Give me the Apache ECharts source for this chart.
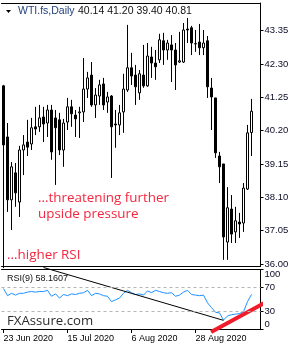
<!DOCTYPE html>
<html>
<head>
<meta charset="utf-8">
<script src="https://cdn.jsdelivr.net/npm/echarts@6/dist/echarts.min.js"></script>
<style>
  html, body { margin: 0; padding: 0; background: #fff; }
  #c { width: 300px; height: 350px; }
</style>
</head>
<body>
<div id="c"></div>
<script>
// ---- data ----
const dates = ['23 Jun 2020','24 Jun 2020','25 Jun 2020','26 Jun 2020','29 Jun 2020','30 Jun 2020','1 Jul 2020','2 Jul 2020','3 Jul 2020','6 Jul 2020',
  '7 Jul 2020','8 Jul 2020','9 Jul 2020','10 Jul 2020','13 Jul 2020','14 Jul 2020','15 Jul 2020','16 Jul 2020','17 Jul 2020','20 Jul 2020',
  '21 Jul 2020','22 Jul 2020','23 Jul 2020','24 Jul 2020','27 Jul 2020','28 Jul 2020','29 Jul 2020','30 Jul 2020','31 Jul 2020','3 Aug 2020',
  '4 Aug 2020','5 Aug 2020','6 Aug 2020','7 Aug 2020','10 Aug 2020','11 Aug 2020','12 Aug 2020','13 Aug 2020','14 Aug 2020','17 Aug 2020',
  '18 Aug 2020','19 Aug 2020','20 Aug 2020','21 Aug 2020','24 Aug 2020','25 Aug 2020','26 Aug 2020','27 Aug 2020','28 Aug 2020','31 Aug 2020',
  '1 Sep 2020','2 Sep 2020','3 Sep 2020','4 Sep 2020','7 Sep 2020','8 Sep 2020','9 Sep 2020','10 Sep 2020','11 Sep 2020','14 Sep 2020',
  '15 Sep 2020','16 Sep 2020','17 Sep 2020'];

const opens = [41.61, 40.00, 38.02, 38.87, 37.95, 39.59, 39.84, 39.78, 40.32, 40.32,
  40.63, 40.44, 40.85, 40.60, 40.54, 39.59, 40.47, 40.95, 40.69, 40.76,
  40.79, 41.51, 41.95, 41.01, 41.29, 41.67, 41.10, 41.29, 40.41, 40.38,
  40.79, 41.48, 42.18, 41.95, 41.39, 41.95, 41.61, 42.52, 42.33, 42.43,
  43.03, 42.74, 42.90, 42.74, 42.36, 42.36, 43.40, 43.44, 42.93, 42.99,
  42.81, 43.03, 41.54, 41.23, 39.40, 39.15, 36.69, 37.73, 37.01, 37.32,
  37.29, 38.36, 40.14];
const closes = [39.75, 38.02, 39.06, 38.24, 39.59, 39.75, 39.68, 40.29, 40.25, 40.60,
  40.41, 40.85, 39.53, 40.29, 39.59, 40.44, 40.95, 40.73, 40.57, 40.79,
  41.51, 41.86, 41.01, 41.32, 41.64, 41.01, 41.26, 40.32, 40.38, 40.76,
  41.51, 42.18, 41.92, 41.58, 41.99, 41.61, 42.55, 42.33, 42.21, 43.06,
  42.74, 42.96, 42.74, 42.27, 42.40, 43.37, 43.37, 42.96, 42.94, 42.81,
  42.96, 41.58, 41.26, 39.50, 39.06, 36.85, 37.77, 36.94, 37.36, 37.26,
  38.39, 40.13, 40.81];
const highs = [41.64, 40.44, 39.21, 39.18, 39.72, 40.06, 40.54, 40.60, 40.95, 41.01,
  40.95, 41.01, 41.01, 40.85, 40.76, 40.57, 41.23, 41.17, 40.85, 40.95,
  42.49, 42.05, 42.36, 41.54, 41.80, 41.86, 41.42, 41.32, 40.85, 41.01,
  41.99, 43.53, 42.65, 42.27, 42.11, 42.90, 42.96, 42.84, 42.74, 43.25,
  43.28, 43.06, 43.21, 42.96, 43.31, 43.59, 43.75, 43.50, 43.37, 43.56,
  43.37, 43.18, 41.86, 41.23, 39.53, 39.15, 38.42, 38.17, 37.80, 37.61,
  38.55, 40.38, 41.20];
const lows = [35.87, 37.64, 37.07, 37.80, 37.48, 38.80, 39.40, 39.59, 40.06, 40.16,
  39.84, 40.00, 39.28, 38.49, 39.43, 39.06, 40.22, 40.32, 40.00, 39.97,
  40.47, 41.23, 40.95, 40.60, 41.01, 40.85, 40.76, 38.71, 39.66, 40.06,
  40.13, 41.42, 41.64, 41.01, 41.17, 41.55, 41.58, 41.86, 41.80, 42.33,
  42.27, 42.43, 41.73, 41.48, 42.33, 42.33, 42.96, 42.58, 42.68, 42.58,
  42.58, 41.23, 40.22, 39.34, 38.55, 36.13, 36.13, 36.66, 36.66, 36.82,
  37.01, 38.33, 39.40];

const rsi = [68, 56, 60, 57, 60, 60, 62, 63, 62, 63,
  63, 65, 55, 59, 52, 58, 56, 59, 58, 60,
  61, 65, 56, 60, 59, 56, 55, 46, 49, 52,
  60, 65, 61, 58, 59, 57, 64, 61, 65, 63,
  61, 60, 61, 55, 57, 62, 65, 58, 57, 56,
  57, 44, 36, 28, 27, 15, 22, 24, 25, 26,
  29, 46, 58.1607];

const priceTicks = [36.00, 37.05, 38.10, 39.15, 40.20, 41.25, 42.30, 43.35];
const rsiTicks = [0, 30, 70, 100];
const rsiLevels = [30, 70];
const dateTickIdx = [0, 16, 32, 48];

// drawn annotation lines (bar index, RSI value)
const trendX = [10, 55];
const trendY = [103.4, 14.5];
const arrowX = [51.9, 66.2];
const arrowY = [-5.0, 47.1];

const annText1 = '...threatening further';
const annText2 = 'upside pressure';
const annText3 = '...higher RSI';
const brand = 'FXAssure.com';
const symbolTitle = 'WTI.fs,Daily';

// ---- chart ----
const last = closes.length - 1;
const candleData = opens.map((o, i) => [i, o, closes[i], lows[i], highs[i]]);
const rsiData = rsi.map((v, i) => [i, v]);
const trendData = trendX.map((x, i) => [x, trendY[i]]);
const arrowData = arrowX.map((x, i) => [x, arrowY[i]]);

const FONT = 'Liberation Sans';
const xBase = { type: 'value', min: -0.5, max: 64.25, splitLine: { show: false },
  axisTick: { show: false }, axisLabel: { show: false } };
const lineOnly = { show: true, onZero: false, lineStyle: { color: '#000', width: 1 } };

const chart = echarts.init(document.getElementById('c'), null, { renderer: 'canvas' });
chart.setOption({
  animation: false,
  backgroundColor: '#fff',
  grid: [
    { left: 1.5, right: 39.5, top: 3, bottom: 83.5, outerBoundsMode: 'none', containLabel: false },
    { left: 1.5, right: 39.5, top: 269.5, bottom: 21, outerBoundsMode: 'none', containLabel: false }
  ],
  xAxis: [
    Object.assign({}, xBase, { gridIndex: 0, position: 'bottom', axisLine: lineOnly }),
    Object.assign({}, xBase, { gridIndex: 0, position: 'top', axisLine: lineOnly }),
    Object.assign({}, xBase, { gridIndex: 1, position: 'bottom', axisLine: lineOnly,
      axisTick: { show: true, customValues: dateTickIdx, length: 4, lineStyle: { color: '#000' } },
      axisLabel: { show: true, customValues: dateTickIdx, formatter: v => dates[v], align: 'left',
        margin: 5, fontSize: 9, fontFamily: FONT, color: '#000', hideOverlap: false } }),
    Object.assign({}, xBase, { gridIndex: 1, position: 'top', axisLine: lineOnly })
  ],
  yAxis: [
    { type: 'value', gridIndex: 0, position: 'right', min: 35.92, max: 44.22,
      axisLine: lineOnly, splitLine: { show: false },
      axisTick: { show: true, customValues: priceTicks, length: 3, lineStyle: { color: '#000' } },
      axisLabel: { show: true, customValues: priceTicks, formatter: v => v.toFixed(2),
        margin: 4, fontSize: 9.5, fontFamily: FONT, color: '#0c0c28', hideOverlap: false } },
    { type: 'value', gridIndex: 1, position: 'right', min: 0, max: 100,
      axisLine: lineOnly, splitLine: { show: false },
      axisTick: { show: true, customValues: rsiTicks, length: 3, lineStyle: { color: '#000' } },
      axisLabel: { show: true, customValues: rsiTicks, formatter: v => String(v),
        margin: 4, fontSize: 9.5, fontFamily: FONT, color: '#0c0c28',
        showMinLabel: true, showMaxLabel: true, hideOverlap: false,
        verticalAlignMaxLabel: 'top', verticalAlignMinLabel: 'bottom' } }
  ],
  series: [
    { type: 'candlestick', xAxisIndex: 0, yAxisIndex: 0, data: candleData,
      encode: { x: 0, y: [1, 2, 3, 4] }, barWidth: 2, silent: true,
      itemStyle: { color: '#fff', color0: '#000', borderColor: '#000', borderColor0: '#000',
        borderColorDoji: '#000', borderWidth: 1 },
      markLine: { silent: true, symbol: ['none', 'none'],
        lineStyle: { opacity: 0, width: 0 },
        data: [{ yAxis: closes[last] }],
        label: { show: true, position: 'end', distance: 1.5, formatter: closes[last].toFixed(2),
          color: '#fff', backgroundColor: '#000', padding: [2, 3, 1, 3],
          fontSize: 9.5, fontFamily: FONT } } },
    { type: 'line', xAxisIndex: 2, yAxisIndex: 1, data: rsiData, symbol: 'none', silent: true,
      lineStyle: { color: '#1e90ff', width: 1 },
      markLine: { silent: true, symbol: ['none', 'none'], label: { show: false },
        lineStyle: { color: '#b4b4b4', width: 1, type: [3, 3] },
        data: rsiLevels.map(v => ({ yAxis: v })) } },
    { type: 'line', xAxisIndex: 2, yAxisIndex: 1, data: trendData, symbol: 'none', silent: true,
      clip: false, lineStyle: { color: '#000', width: 1 } },
    { type: 'line', xAxisIndex: 2, yAxisIndex: 1, data: arrowData, symbol: 'none', silent: true,
      clip: false, lineStyle: { color: '#f01c2c', width: 4 } }
  ],
  graphic: [
    { type: 'polygon', shape: { points: [[6, 10], [11, 10], [8.5, 13]] }, style: { fill: '#000' }, silent: true },
    { type: 'text', x: 18, y: 11.5, silent: true,
      style: { text: symbolTitle, fill: '#23407c', fontSize: 10.5, fontFamily: FONT, verticalAlign: 'middle' } },
    { type: 'text', x: 78, y: 11.5, silent: true,
      style: { text: [opens[last], highs[last], lows[last], closes[last]].map(v => v.toFixed(2)).join(' '),
        fill: '#111', fontSize: 10.5, fontFamily: FONT, verticalAlign: 'middle' } },
    { type: 'text', x: 38, y: 197.8, silent: true,
      style: { text: annText1, fill: '#f5263f', fontSize: 13.4, fontFamily: 'Open Sans', verticalAlign: 'middle' } },
    { type: 'text', x: 38, y: 213.8, silent: true,
      style: { text: annText2, fill: '#f5263f', fontSize: 13.4, fontFamily: 'Open Sans', verticalAlign: 'middle' } },
    { type: 'text', x: 7, y: 255.3, silent: true,
      style: { text: annText3, fill: '#f5263f', fontSize: 13.4, fontFamily: 'Open Sans', verticalAlign: 'middle' } },
    { type: 'text', x: 7, y: 278.5, silent: true,
      style: { text: 'RSI(9) ' + rsi[last].toFixed(4), fill: '#111', fontSize: 9, fontFamily: FONT, verticalAlign: 'middle' } },
    { type: 'text', x: 7, y: 320.8, silent: true,
      style: { text: brand, fill: '#2c2c2c', fontSize: 13.2, fontFamily: 'Open Sans', verticalAlign: 'middle' } }
  ]
});
</script>
</body>
</html>
